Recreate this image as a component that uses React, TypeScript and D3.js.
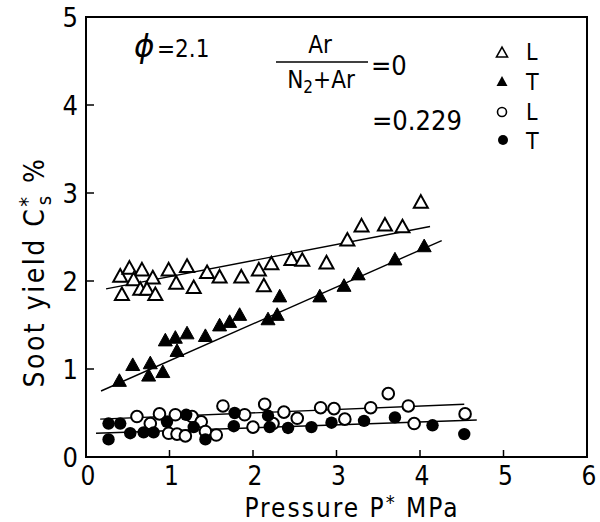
import * as d3 from 'd3'

// soot yield vs pressure, phi = 2.1
const xTicks = [0, 1, 2, 3, 4, 5, 6]
const yTicks = [0, 1, 2, 3, 4, 5]

// Ar/(N2+Ar) = 0, laminar
const triOpen: [number, number][] = [
  [0.41, 2.05], [0.52, 2.14], [0.67, 2.12], [0.57, 2.01], [0.8, 2.03], [0.43, 1.84],
  [0.65, 1.9], [0.73, 1.9], [0.83, 1.84], [0.99, 2.12], [1.21, 2.16], [1.08, 1.97],
  [1.29, 1.92], [1.45, 2.09], [1.6, 2.04], [1.86, 2.04], [2.07, 2.12], [2.22, 2.19],
  [2.46, 2.24], [2.59, 2.23], [2.88, 2.2], [2.13, 1.94], [3.13, 2.46], [3.3, 2.62],
  [3.58, 2.63], [3.79, 2.61], [4.01, 2.89],
]
// Ar/(N2+Ar) = 0, turbulent
const triFilled: [number, number][] = [
  [0.4, 0.86], [0.56, 1.04], [0.77, 1.06], [0.75, 0.92], [0.92, 0.96], [0.95, 1.32],
  [1.07, 1.35], [1.09, 1.2], [1.21, 1.4], [1.43, 1.37], [1.6, 1.49], [1.72, 1.53],
  [1.84, 1.61], [2.18, 1.56], [2.29, 1.61], [2.32, 1.82], [2.8, 1.82], [3.09, 1.94],
  [3.26, 2.07], [3.7, 2.24], [4.05, 2.39],
]
// Ar/(N2+Ar) = 0.229, laminar
const circOpen: [number, number][] = [
  [0.61, 0.46], [0.77, 0.38], [0.88, 0.49], [1.07, 0.48], [0.99, 0.27], [1.09, 0.26],
  [1.19, 0.24], [1.27, 0.46], [1.38, 0.4], [1.43, 0.29], [1.56, 0.25], [1.64, 0.58],
  [1.9, 0.48], [2.0, 0.34], [2.14, 0.6], [2.24, 0.38], [2.37, 0.51], [2.53, 0.44],
  [2.81, 0.56], [2.97, 0.55], [3.1, 0.43], [3.41, 0.56], [3.62, 0.72], [3.86, 0.58],
  [3.93, 0.38], [4.54, 0.49],
]
// Ar/(N2+Ar) = 0.229, turbulent
const circFilled: [number, number][] = [
  [0.27, 0.38], [0.27, 0.2], [0.41, 0.38], [0.53, 0.27], [0.69, 0.28], [0.81, 0.28],
  [0.97, 0.4], [1.2, 0.48], [1.29, 0.34], [1.43, 0.2], [1.78, 0.5], [1.77, 0.35],
  [2.18, 0.47], [2.2, 0.34], [2.42, 0.33], [2.7, 0.34], [2.94, 0.39], [3.33, 0.41],
  [3.7, 0.45], [4.15, 0.36], [4.53, 0.26],
]

// fitted lines (end points)
const fitTriOpen: [number, number][] = [[0.24, 1.91], [4.12, 2.62]]
const fitTriFilled: [number, number][] = [[0.18, 0.75], [4.26, 2.46]]
const fitCircOpen: [number, number][] = [[0.17, 0.43], [4.53, 0.6]]
const fitCircFilled: [number, number][] = [[0.12, 0.27], [4.68, 0.42]]

const FONT = "'Liberation Sans Narrow', 'DejaVu Sans Condensed', 'Liberation Sans', sans-serif"

const triPath = (size: number) => {
  const h = size * 0.9
  return `M0,${-h * 0.6}L${size / 2},${h * 0.4}L${-size / 2},${h * 0.4}Z`
}

export default function App() {
  const x = d3.scaleLinear().domain([0, 6]).range([86, 587])
  const y = d3.scaleLinear().domain([0, 5]).range([457, 17])
  const line = d3.line<[number, number]>().x((d) => x(d[0])).y((d) => y(d[1]))

  const tri = triPath(14)
  const triSmall = triPath(11)

  return (
    <svg width={600} height={522} style={{ position: 'absolute', left: 0, top: 0, background: '#fff' }}
      fontFamily={FONT}>
      {/* frame */}
      <rect x={x(0)} y={y(5)} width={x(6) - x(0)} height={y(0) - y(5)} fill="none" stroke="#000" strokeWidth={2} />

      {/* ticks, inward */}
      {xTicks.slice(1, -1).map((t) => (
        <line key={'xt' + t} x1={x(t)} x2={x(t)} y1={y(0)} y2={y(0) - 7} stroke="#000" strokeWidth={1.5} />
      ))}
      {yTicks.slice(1, -1).map((t) => (
        <line key={'yt' + t} x1={x(0)} x2={x(0) + 8} y1={y(t)} y2={y(t)} stroke="#000" strokeWidth={1.5} />
      ))}

      {xTicks.map((t) => (
        <text key={'xl' + t} x={x(t) + 2} y={y(0) + 28} textAnchor="middle" fontSize={26}>{t}</text>
      ))}
      {yTicks.map((t) => (
        <text key={'yl' + t} x={x(0) - 8} y={y(t) + 10} textAnchor="end" fontSize={27}>{t}</text>
      ))}

      {/* axis titles */}
      <text x={352} y={517} textAnchor="middle" fontSize={26} letterSpacing={2}>
        Pressure  P<tspan dy={-8} fontSize={20}>*</tspan><tspan dy={8}> MPa</tspan>
      </text>
      <text transform="translate(44,272) rotate(-90)" textAnchor="middle" fontSize={28} letterSpacing={2.5}>
        Soot  yield  C<tspan dy={-9} fontSize={22}>*</tspan><tspan dx={-11} dy={16} fontSize={20}>s</tspan>
        <tspan dy={-7}> %</tspan>
      </text>

      {/* fitted lines */}
      {[fitTriOpen, fitTriFilled, fitCircOpen, fitCircFilled].map((l, i) => (
        <path key={'fit' + i} d={line(l) ?? ''} stroke="#000" strokeWidth={1.4} fill="none" />
      ))}

      {triOpen.map((d, i) => (
        <path key={'to' + i} d={tri} transform={`translate(${x(d[0])},${y(d[1])})`} fill="#fff" stroke="#000" strokeWidth={2} />
      ))}
      {triFilled.map((d, i) => (
        <path key={'tf' + i} d={tri} transform={`translate(${x(d[0])},${y(d[1])})`} fill="#000" stroke="#000" strokeWidth={1} />
      ))}
      {circOpen.map((d, i) => (
        <circle key={'co' + i} cx={x(d[0])} cy={y(d[1])} r={5.8} fill="#fff" stroke="#000" strokeWidth={2} />
      ))}
      {circFilled.map((d, i) => (
        <circle key={'cf' + i} cx={x(d[0])} cy={y(d[1])} r={6.2} fill="#000" />
      ))}

      {/* annotations */}
      <text x={134} y={57} fontSize={31} fontStyle="italic" fontFamily="'DejaVu Sans', sans-serif">ϕ</text>
      <text x={157} y={57} fontSize={24}>=2.1</text>
      <text x={320} y={53} textAnchor="middle" fontSize={24}>Ar</text>
      <line x1={276} x2={368} y1={62} y2={62} stroke="#000" strokeWidth={1.5} />
      <text x={321} y={88} textAnchor="middle" fontSize={24}>
        N<tspan dy={5} fontSize={17}>2</tspan><tspan dy={-5}>+Ar</tspan>
      </text>
      <text x={371} y={75} fontSize={27}>=0</text>
      <text x={372} y={130} fontSize={27}>=0.229</text>

      {/* legend */}
      <path d={triSmall} transform="translate(502,53)" fill="#fff" stroke="#000" strokeWidth={1.6} />
      <text x={526} y={60} fontSize={23}>L</text>
      <path d={triSmall} transform="translate(502,82)" fill="#000" />
      <text x={526} y={90} fontSize={23}>T</text>
      <circle cx={502} cy={112} r={4.5} fill="#fff" stroke="#000" strokeWidth={1.6} />
      <text x={526} y={120} fontSize={23}>L</text>
      <circle cx={503} cy={140} r={5} fill="#000" />
      <text x={526} y={149} fontSize={23}>T</text>
    </svg>
  )
}
